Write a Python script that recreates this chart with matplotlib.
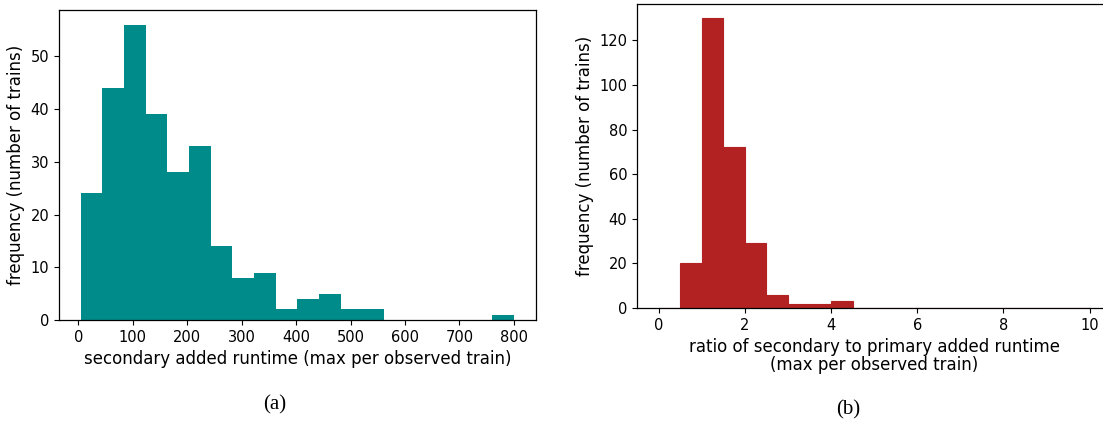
import numpy as np
import matplotlib
matplotlib.use("Agg")
import matplotlib.pyplot as plt

# histogram (a): secondary added runtime, 20 bins
runtime_range = (4, 800)
runtime_counts = [24, 44, 56, 39, 28, 33, 14, 8, 9, 2, 4, 5, 2, 2, 0, 0, 0, 0, 0, 1]

# histogram (b): ratio secondary / primary, 20 bins
ratio_range = (0, 10)
ratio_counts = [0, 20, 130, 72, 29, 6, 2, 2, 3, 0, 0, 0, 0, 0, 0, 0, 0, 0, 0, 0]

plt.rcParams['font.family'] = 'DejaVu Sans'

fig = plt.figure(figsize=(11.03, 4.23), dpi=100)
ax1 = fig.add_axes([0.0535, 0.2435, 0.432, 0.733])
ax2 = fig.add_axes([0.5775, 0.2719, 0.43, 0.7198])

def draw_hist(ax, rng, counts, color, edge):
    edges = np.linspace(rng[0], rng[1], len(counts) + 1)
    centers = (edges[:-1] + edges[1:]) / 2
    ax.hist(centers, bins=edges, weights=counts, color=color,
            edgecolor=edge, linewidth=0.8 if edge != 'none' else 0)

draw_hist(ax1, runtime_range, runtime_counts, '#008b8b', 'none')
draw_hist(ax2, ratio_range, ratio_counts, '#b22222', '#b22222')

ax1.set_xlabel('secondary added runtime (max per observed train)', fontsize=12)
ax1.set_ylabel('frequency (number of trains)', fontsize=12)
ax2.set_xlabel('ratio of secondary to primary added runtime\n(max per observed train)', fontsize=12, linespacing=1.0)
ax2.set_ylabel('frequency (number of trains)', fontsize=12)

for ax in (ax1, ax2):
    ax.tick_params(labelsize=10.5)
    for s in ax.spines.values():
        s.set_linewidth(0.9)

fig.text(0.249, 0.043, '(a)', family='Liberation Serif', fontsize=15, ha='center', va='center')
fig.text(0.769, 0.030, '(b)', family='Liberation Serif', fontsize=15, ha='center', va='center')

fig.savefig('out.png', dpi=100)
